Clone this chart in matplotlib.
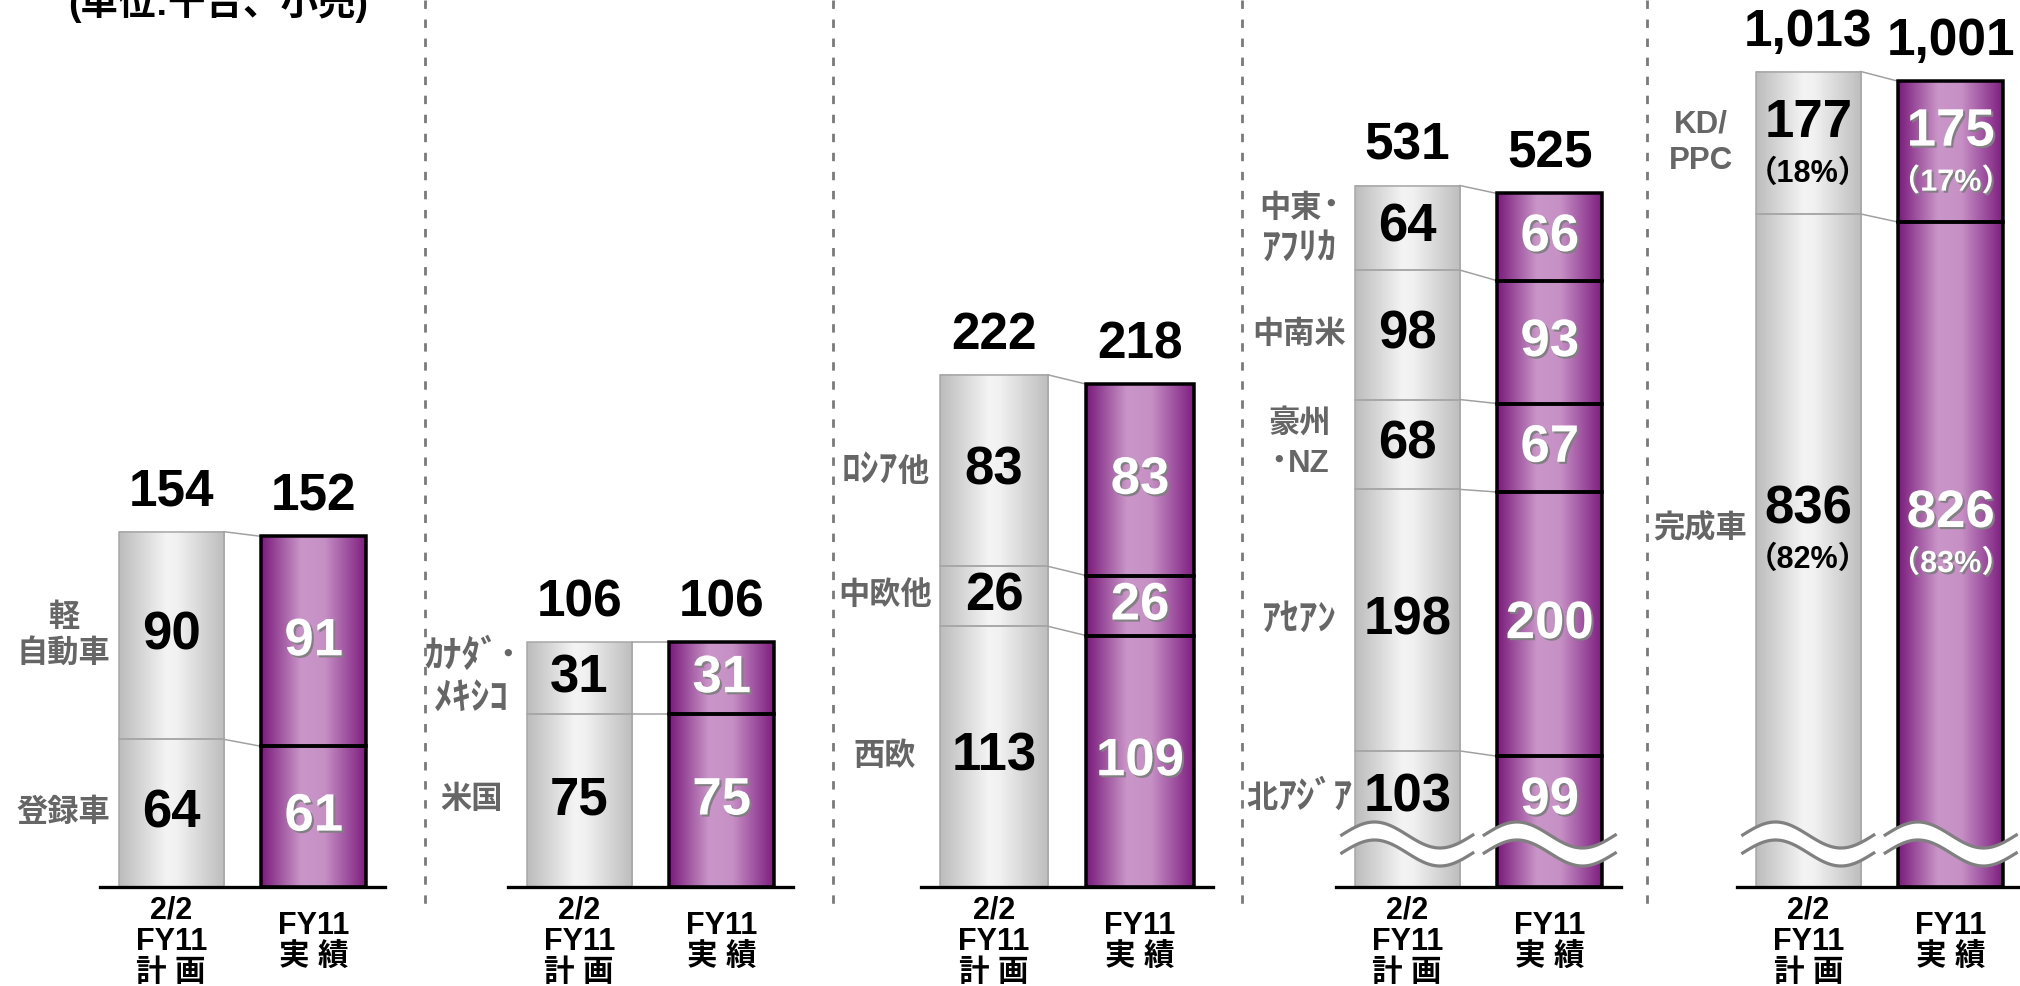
import numpy as np
import matplotlib.pyplot as plt
import matplotlib.patheffects as pe
from matplotlib.colors import LinearSegmentedColormap
from matplotlib.lines import Line2D
from matplotlib.offsetbox import TextArea, HPacker, VPacker, AnnotationBbox

plt.rcParams['font.family'] = ['Liberation Sans', 'Noto Sans CJK JP']

# sales by region, bottom segment first (thousand units)
plan_units = [[64, 90], [75, 31], [113, 26, 83], [103, 198, 68, 98, 64], [836, 177]]
actual_units = [[61, 91], [75, 31], [109, 26, 83], [99, 200, 67, 93, 66], [826, 175]]
segment_names = [["登録車", "軽\n自動車"],
                 ["米国", "ｶﾅﾀﾞ･\nﾒｷｼｺ"],
                 ["西欧", "中欧他", "ﾛｼｱ他"],
                 ["北ｱｼﾞｱ", "ｱｾｱﾝ", "豪州\n･NZ", "中南米", "中東･\nｱﾌﾘｶ"],
                 ["完成車", "KD/\nPPC"]]
plan_share = ["（82%）", "（18%）"]
actual_share = ["（83%）", "（17%）"]
bar_names = ["2/2\nFY11\n計 画", "FY11\n実 績"]
title = "(単位:千台、小売)"

# layout, in pixels of the 2020x986 canvas
W, H = 2020, 986
base_px = 887
panel_left = [100, 508, 921, 1336, 1737]
panel_width = [285, 285, 292, 285, 285]
px_per_unit = [2.307, 2.307, 2.307, 1.321, 0.805]
broken = [False, False, False, True, True]
sep_x = [425, 833, 1242, 1647]
bar_w = 0.74
px = 72 / 100  # points per pixel

gray_cmap = LinearSegmentedColormap.from_list(
    'g', [(0, '#bcbcbc'), (0.45, '#f4f4f4'), (0.55, '#f1f1f1'), (1, '#bdbdbd')])
purple_cmap = LinearSegmentedColormap.from_list(
    'p', [(0, '#7a1a7c'), (0.38, '#ca96c9'), (0.6, '#c690c5'), (1, '#7c1c7e')])
grad = np.linspace(0, 1, 256).reshape(1, -1)
shadow = [pe.withSimplePatchShadow(offset=(1.5, -1.5), shadow_rgbFace='#808080', alpha=1.0)]


def category_box(s, size=22.5):
    # half-width katakana look tiny in Noto, so draw those runs a bit bigger
    rows = []
    for line in s.split('\n'):
        runs, cur, cur_half = [], '', None
        for ch in line:
            half = '\uff61' <= ch <= '\uff9f'
            if cur and half != cur_half:
                runs.append((cur, cur_half))
                cur = ''
            cur += ch
            cur_half = half
        runs.append((cur, cur_half))
        parts = [TextArea(r, textprops=dict(fontsize=size * (1.2 if h else 1.0),
                                            fontweight='bold', color='#666666'))
                 for r, h in runs]
        rows.append(HPacker(children=parts, align='baseline', pad=0, sep=0))
    return VPacker(children=rows, align='center', pad=0, sep=4)


fig = plt.figure(figsize=(W / 100, H / 100), dpi=100)

fig.text(218 / W, 1 - 3 / H, title, ha='center', va='center', fontsize=27, fontweight='bold')

for x in sep_x:
    fig.add_artist(Line2D([x / W, x / W], [1, 1 - 910 / H], transform=fig.transFigure,
                          color='#7a7a7a', lw=2.8 * px, ls=(0, (3.0, 3.8))))

for p in range(5):
    ax = fig.add_axes([panel_left[p] / W, (H - base_px) / H, panel_width[p] / W, base_px / H])
    k = px_per_unit[p]
    yb = 43 / k  # height of the break mark

    tops_all = []
    for i, (vals, cmap) in enumerate([(plan_units[p], gray_cmap), (actual_units[p], purple_cmap)]):
        vals = np.array(vals)
        tops = np.cumsum(vals)
        bottoms = tops - vals
        tops_all.append(tops)
        ax.imshow(grad, extent=(i - bar_w / 2, i + bar_w / 2, 0, tops[-1]), aspect='auto',
                  cmap=cmap, interpolation='bilinear', zorder=1)
        if i == 0:
            ax.bar([i] * len(vals), vals, bar_w, bottom=bottoms, fill=False,
                   edgecolor='#a6a6a6', lw=1.5 * px, zorder=2)
        else:
            ax.bar([i] * len(vals), vals, bar_w, bottom=bottoms, fill=False,
                   edgecolor='black', lw=3.5 * px, zorder=3)

        label_y = bottoms + vals / 2
        if broken[p]:
            label_y[0] = (tops[0] + yb) / 2

        color = 'black' if i == 0 else 'white'
        effects = None if i == 0 else shadow
        for j, v in enumerate(vals):
            dy = 20 if p == 4 else 0
            ax.annotate(f"{v}", xy=(i, label_y[j]), xytext=(0, dy), textcoords='offset pixels',
                        ha='center', va='center', fontsize=38, fontweight='bold',
                        color=color, path_effects=effects, zorder=6)
            if p == 4:
                share = plan_share if i == 0 else actual_share
                ax.annotate(share[j], xy=(i, label_y[j]), xytext=(0, -31), textcoords='offset pixels',
                            ha='center', va='center', fontsize=22, fontweight='bold',
                            color=color, path_effects=effects, zorder=6)
            if i == 0:
                ab = AnnotationBbox(category_box(segment_names[p][j]), (-bar_w / 2, label_y[j]),
                                    xybox=(-55 * px, 0), boxcoords='offset points',
                                    frameon=False, box_alignment=(0.5, 0.5),
                                    annotation_clip=False)
                ax.add_artist(ab)

        ax.annotate(f"{tops[-1]:,}", xy=(i, tops[-1]), xytext=(0, 26), textcoords='offset pixels',
                    ha='center', va='baseline', fontsize=37, fontweight='bold', annotation_clip=False)
        ax.annotate(bar_names[i], xy=(i, 0), xytext=(0, -55), textcoords='offset pixels',
                    ha='center', va='center', fontsize=22, fontweight='bold', linespacing=1.05,
                    annotation_clip=False)

    # connector lines between the two bars
    for a, b in zip(tops_all[0], tops_all[1]):
        ax.plot([bar_w / 2, 1 - bar_w / 2], [a, b], color='#a0a0a0', lw=1.5 * px, zorder=2)

    # wavy break marks
    if broken[p]:
        amp, half = 13 / k, 9 / k
        for i in range(2):
            xs = np.linspace(i - bar_w / 2 - 0.09, i + bar_w / 2 + 0.09, 120)
            t = (xs - xs[0]) / (xs[-1] - xs[0])
            yc = yb + amp * np.sin(2 * np.pi * t)
            ax.fill_between(xs, yc - half, yc + half, color='white', lw=0, zorder=4)
            ax.plot(xs, yc + half, color='#808080', lw=3.2 * px, zorder=5)
            ax.plot(xs, yc - half, color='#808080', lw=3.2 * px, zorder=5)

    ax.set_xlim(-0.5, 1.5)
    ax.set_ylim(0, base_px / k)
    ax.set_xticks([])
    ax.set_yticks([])
    for s in ['top', 'left', 'right']:
        ax.spines[s].set_visible(False)
    ax.spines['bottom'].set_linewidth(3.3 * px)
    ax.spines['bottom'].set_zorder(7)
    ax.patch.set_visible(False)

fig.savefig('out.png', dpi=100)
